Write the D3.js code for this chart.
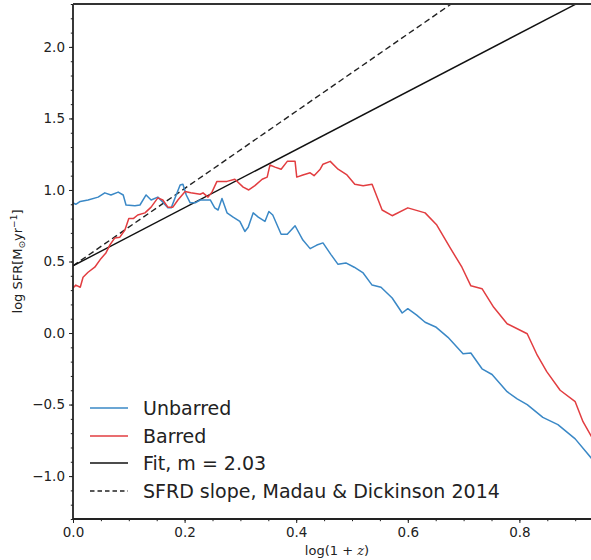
<!DOCTYPE html>
<html><head><meta charset="utf-8">
<script src="https://cdn.jsdelivr.net/npm/d3@7"></script>
<style>
html,body{margin:0;padding:0;background:#fff;}
svg{display:block;font-family:"DejaVu Sans",sans-serif;}
</style></head>
<body><div id="chart"></div>
<script>
// ---- data ----
const unbarredX = [0.0,0.005,0.013,0.027,0.045,0.057,0.068,0.081,0.090,0.095,0.111,0.120,0.131,0.140,0.152,0.161,0.170,0.176,0.183,0.192,0.197,0.203,0.210,0.219,0.228,0.246,0.254,0.260,0.267,0.276,0.287,0.299,0.308,0.314,0.323,0.332,0.344,0.351,0.358,0.373,0.384,0.398,0.412,0.425,0.437,0.448,0.462,0.475,0.489,0.504,0.520,0.536,0.552,0.572,0.590,0.600,0.616,0.631,0.651,0.672,0.699,0.713,0.733,0.751,0.778,0.796,0.814,0.842,0.869,0.900,0.930];
const unbarredY = [0.91,0.90,0.92,0.93,0.95,0.98,0.965,0.985,0.965,0.895,0.89,0.895,0.965,0.93,0.95,0.915,0.875,0.875,0.945,1.035,1.04,0.965,0.91,0.91,0.93,0.93,0.875,0.86,0.94,0.84,0.81,0.78,0.71,0.74,0.84,0.81,0.78,0.85,0.825,0.69,0.69,0.75,0.65,0.59,0.615,0.63,0.55,0.48,0.49,0.46,0.42,0.335,0.32,0.245,0.14,0.17,0.125,0.075,0.04,-0.03,-0.145,-0.14,-0.25,-0.29,-0.41,-0.46,-0.50,-0.59,-0.64,-0.74,-0.88];
const barredX = [0.0,0.005,0.013,0.018,0.027,0.039,0.050,0.059,0.066,0.075,0.084,0.093,0.100,0.108,0.116,0.129,0.140,0.152,0.161,0.170,0.179,0.188,0.201,0.211,0.228,0.233,0.242,0.249,0.258,0.276,0.290,0.305,0.315,0.326,0.339,0.348,0.353,0.362,0.373,0.384,0.398,0.401,0.412,0.425,0.432,0.443,0.448,0.461,0.475,0.491,0.505,0.520,0.536,0.554,0.572,0.600,0.631,0.652,0.676,0.697,0.713,0.733,0.754,0.778,0.814,0.832,0.849,0.873,0.900,0.914,0.930];
const barredY = [0.315,0.335,0.32,0.39,0.425,0.46,0.52,0.56,0.615,0.665,0.67,0.72,0.80,0.80,0.825,0.84,0.88,0.945,0.93,0.88,0.88,0.93,0.99,0.98,0.97,0.98,0.95,0.985,1.06,1.06,1.075,1.02,1.00,1.03,1.075,1.09,1.175,1.16,1.145,1.20,1.20,1.09,1.105,1.12,1.10,1.145,1.18,1.20,1.145,1.105,1.04,1.03,1.04,0.86,0.82,0.875,0.84,0.755,0.595,0.46,0.33,0.31,0.18,0.065,-0.005,-0.155,-0.27,-0.40,-0.48,-0.62,-0.73];
const fitSlope = 2.03, fitIntercept = 0.47;
const mdSlope = 2.7, mdIntercept = 0.47;
const xTicks = [0.0,0.2,0.4,0.6,0.8];
const yTicks = [-1.0,-0.5,0.0,0.5,1.0,1.5,2.0];
const legendLabels = ["Unbarred","Barred","Fit, m = 2.03","SFRD slope, Madau & Dickinson 2014"];

// ---- layout ----
const W = 591, H = 560;
const L = 73, T = 4, B = 519, Rvis = 591;
const x = d3.scaleLinear().domain([0, 1]).range([L, L + 558]);
const y = d3.scaleLinear().domain([-1.3, 2.3]).range([B, T]);

const svg = d3.select("#chart").append("svg").attr("width", W).attr("height", H);
svg.append("defs").append("clipPath").attr("id","clip")
  .append("rect").attr("x", L).attr("y", T).attr("width", Rvis - L).attr("height", B - T);

const blue = "#3a88c6", red = "#e23d40";
const g = svg.append("g").attr("clip-path","url(#clip)");
const line = d3.line().x(d => x(d[0])).y(d => y(d[1]));

const xs = [0, 1];
g.append("path").datum(xs.map(v => [v, mdIntercept + mdSlope * v]))
  .attr("d", line).attr("fill","none").attr("stroke","#222").attr("stroke-width",1.4)
  .attr("stroke-dasharray","6,3.5");
g.append("path").datum(xs.map(v => [v, fitIntercept + fitSlope * v]))
  .attr("d", line).attr("fill","none").attr("stroke","#111").attr("stroke-width",1.4);
g.append("path").datum(unbarredX.map((v,i)=>[v, unbarredY[i]]))
  .attr("d", line).attr("fill","none").attr("stroke",blue).attr("stroke-width",1.5).attr("stroke-linejoin","round");
g.append("path").datum(barredX.map((v,i)=>[v, barredY[i]]))
  .attr("d", line).attr("fill","none").attr("stroke",red).attr("stroke-width",1.5).attr("stroke-linejoin","round");

// ---- axes ----
const fmt = v => (v < 0 ? "\u2212" : "") + Math.abs(v).toFixed(1);
const xAxis = d3.axisBottom(x).tickValues(xTicks).tickFormat(fmt).tickSize(4).tickPadding(4);
const xMinor = d3.axisBottom(x).tickValues(d3.range(0, 0.951, 0.05)).tickFormat("").tickSize(2.2);
const yAxis = d3.axisLeft(y).tickValues(yTicks).tickFormat(fmt).tickSize(4).tickPadding(4);
const yMinor = d3.axisLeft(y).tickValues(d3.range(-13, 24).map(v => v / 10)).tickFormat("").tickSize(2.2);

function style(sel){
  sel.select(".domain").remove();
  sel.selectAll("line").attr("stroke","#222").attr("stroke-width",1);
  sel.selectAll("text").attr("fill","#222").style("font-size","13.5px").style("font-family","DejaVu Sans");
}
svg.append("g").attr("transform",`translate(0,${B})`).call(xMinor).call(style);
svg.append("g").attr("transform",`translate(0,${B})`).call(xAxis).call(style);
svg.append("g").attr("transform",`translate(${L},0)`).call(yMinor).call(style);
svg.append("g").attr("transform",`translate(${L},0)`).call(yAxis).call(style);

// spines
svg.append("line").attr("x1",L).attr("x2",L).attr("y1",T).attr("y2",B).attr("stroke","#222").attr("stroke-width",1.8);
svg.append("line").attr("x1",L).attr("x2",Rvis).attr("y1",B).attr("y2",B).attr("stroke","#222").attr("stroke-width",1.8);
svg.append("line").attr("x1",L).attr("x2",Rvis).attr("y1",T).attr("y2",T).attr("stroke","#333").attr("stroke-width",2);

// axis labels
svg.append("text").attr("x", 337).attr("y", 555).attr("text-anchor","middle")
  .style("font-size","13px").attr("fill","#222")
  .html('log(1 + <tspan font-style="italic" font-family="DejaVu Serif">z</tspan>)');
const yl = svg.append("text").attr("transform",`translate(22,${(T+B)/2}) rotate(-90)`)
  .attr("text-anchor","middle").style("font-size","13px").attr("fill","#222");
yl.append("tspan").text("log SFR[M");
yl.append("tspan").attr("dy",3).style("font-size","9px").text("\u2299");
yl.append("tspan").attr("dy",-3).text("yr");
yl.append("tspan").attr("dy",-5).style("font-size","9px").text("\u22121");
yl.append("tspan").attr("dy",5).text("]");

// legend
const legY = [408, 436, 463, 491];
const legStyles = [
  {c: blue, d: null}, {c: red, d: null}, {c: "#111", d: null}, {c: "#222", d: "4.5,3"}
];
legendLabels.forEach((lab, i) => {
  const ln = svg.append("line").attr("x1",90).attr("x2",128).attr("y1",legY[i]).attr("y2",legY[i])
    .attr("stroke",legStyles[i].c).attr("stroke-width",1.5);
  if (legStyles[i].d) ln.attr("stroke-dasharray", legStyles[i].d);
  svg.append("text").attr("x",143).attr("y",legY[i]).attr("dy","0.35em")
    .style("font-size","19px").attr("fill","#222").text(lab);
});
</script>
</body></html>
